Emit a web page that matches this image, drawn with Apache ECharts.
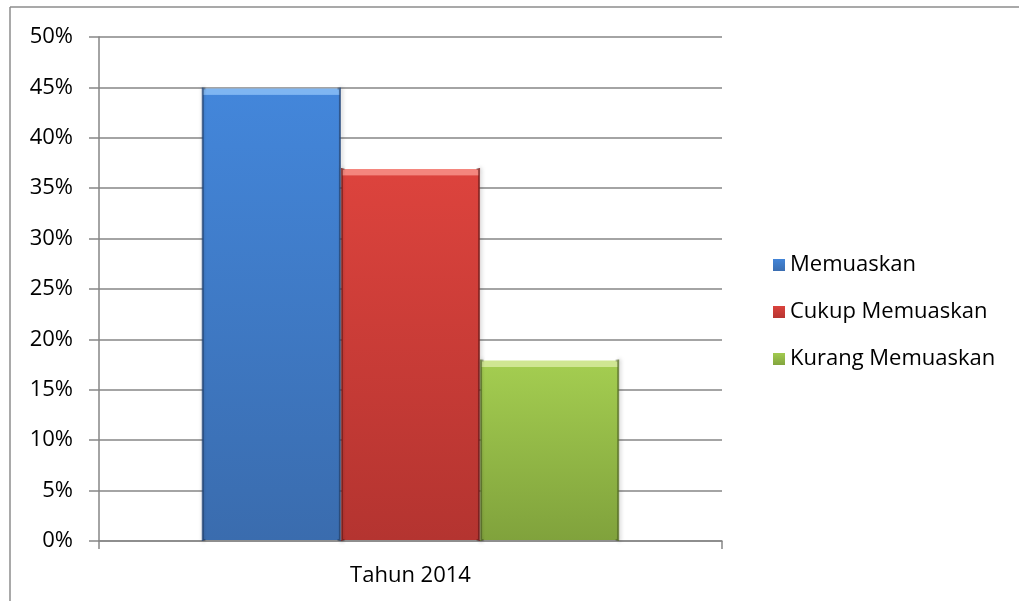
<!DOCTYPE html>
<html>
<head>
<meta charset="utf-8">
<style>
  html, body { margin: 0; padding: 0; background: #fff; }
  #chart { width: 1019px; height: 601px; }
</style>
<script src="https://cdn.jsdelivr.net/npm/echarts@6/dist/echarts.min.js"></script>
</head>
<body>
<div id="chart"></div>
<script>
// Survey results, one category, three response groups
const categories = ['Tahun 2014'];
const seriesNames = ['Memuaskan', 'Cukup Memuaskan', 'Kurang Memuaskan'];
const memuaskan = [0.45];
const cukupMemuaskan = [0.37];
const kurangMemuaskan = [0.18];
const yTicks = [0, 0.05, 0.10, 0.15, 0.20, 0.25, 0.30, 0.35, 0.40, 0.45, 0.50];

const palette = [
  { light: '#7fb6f2', top: '#4386da', bottom: '#3a6cae', edge: 'rgba(40,80,140,0.9)', flat: '#3f7fd2' },
  { light: '#f4867e', top: '#dc433d', bottom: '#b43430', edge: 'rgba(140,30,28,0.9)', flat: '#d43d38' },
  { light: '#cfe692', top: '#a3cc50', bottom: '#80a23c', edge: 'rgba(100,128,40,0.9)', flat: '#98c04a' }
];

const font = '"Open Sans", "Liberation Sans", sans-serif';
const values = [memuaskan, cukupMemuaskan, kurangMemuaskan];

const chart = echarts.init(document.getElementById('chart'), null, { renderer: 'canvas' });

// Vertical fill with a bright bevel strip along the top of the bar
function barFill(p, bandFrac) {
  const k = Math.min(0.5, bandFrac);
  return new echarts.graphic.LinearGradient(0, 0, 0, 1, [
    { offset: 0, color: p.light },
    { offset: k, color: p.light },
    { offset: Math.min(1, k + 0.002), color: p.top },
    { offset: 1, color: p.bottom }
  ]);
}

// Darker side edges
function barEdge(p) {
  return new echarts.graphic.LinearGradient(0, 0, 1, 0, [
    { offset: 0, color: p.edge },
    { offset: 0.03, color: 'rgba(0,0,0,0)' },
    { offset: 0.97, color: 'rgba(0,0,0,0)' },
    { offset: 1, color: p.edge }
  ]);
}

function buildSeries(bands) {
  return seriesNames.map((name, i) => ({
    name: name,
    type: 'bar',
    data: values[i],
    barGap: '0%',
    barCategoryGap: '33%',
    color: palette[i].flat,
    itemStyle: {
      color: barFill(palette[i], bands[i]),
      borderColor: barEdge(palette[i]),
      borderWidth: 2,
      shadowColor: 'rgba(0,0,0,0.3)',
      shadowBlur: 4,
      shadowOffsetX: 1
    }
  }));
}

chart.setOption({
  animation: false,
  backgroundColor: '#ffffff',
  graphic: [
    { type: 'line', shape: { x1: 10, y1: 7, x2: 1019, y2: 7 }, style: { stroke: '#8c8c8c', lineWidth: 1.5 } },
    { type: 'line', shape: { x1: 10, y1: 7, x2: 10, y2: 601 }, style: { stroke: '#8c8c8c', lineWidth: 1.5 } }
  ],
  grid: { left: 99, right: 297, top: 37, bottom: 60 },
  legend: {
    orient: 'vertical',
    left: 767,
    top: 249,
    itemWidth: 12,
    itemHeight: 12,
    itemGap: 25,
    icon: 'rect',
    textStyle: { fontFamily: font, fontSize: 22, color: '#000', padding: [0, 0, 0, 0] },
    data: seriesNames
  },
  xAxis: {
    type: 'category',
    data: categories,
    axisLine: { lineStyle: { color: '#868686', width: 1.5 } },
    axisTick: { show: true, length: 8, alignWithLabel: false, lineStyle: { color: '#868686', width: 1.5 } },
    axisLabel: { fontFamily: font, fontSize: 22, color: '#000', margin: 24 }
  },
  yAxis: {
    type: 'value',
    min: 0,
    max: 0.5,
    interval: 0.05,
    axisLine: { show: true, lineStyle: { color: '#868686', width: 1.5 } },
    axisTick: { show: true, length: 10, lineStyle: { color: '#868686', width: 1.5 } },
    splitLine: { show: true, lineStyle: { color: '#868686', width: 1.5 } },
    axisLabel: {
      fontFamily: font, fontSize: 22, color: '#000', margin: 26,
      formatter: v => {
        const t = yTicks.find(x => Math.abs(x - v) < 1e-9);
        return Math.round((t !== undefined ? t : v) * 100) + '%';
      }
    }
  },
  series: buildSeries([0.02, 0.02, 0.02])
});

// Size the top bevel strip in pixels from each bar's on-screen height
const base = chart.convertToPixel({ yAxisIndex: 0 }, 0);
const bands = values.map(arr => {
  const h = base - chart.convertToPixel({ yAxisIndex: 0 }, arr[0]);
  return h > 0 ? 7 / h : 0.05;
});
chart.setOption({ series: buildSeries(bands) });
</script>
</body>
</html>
